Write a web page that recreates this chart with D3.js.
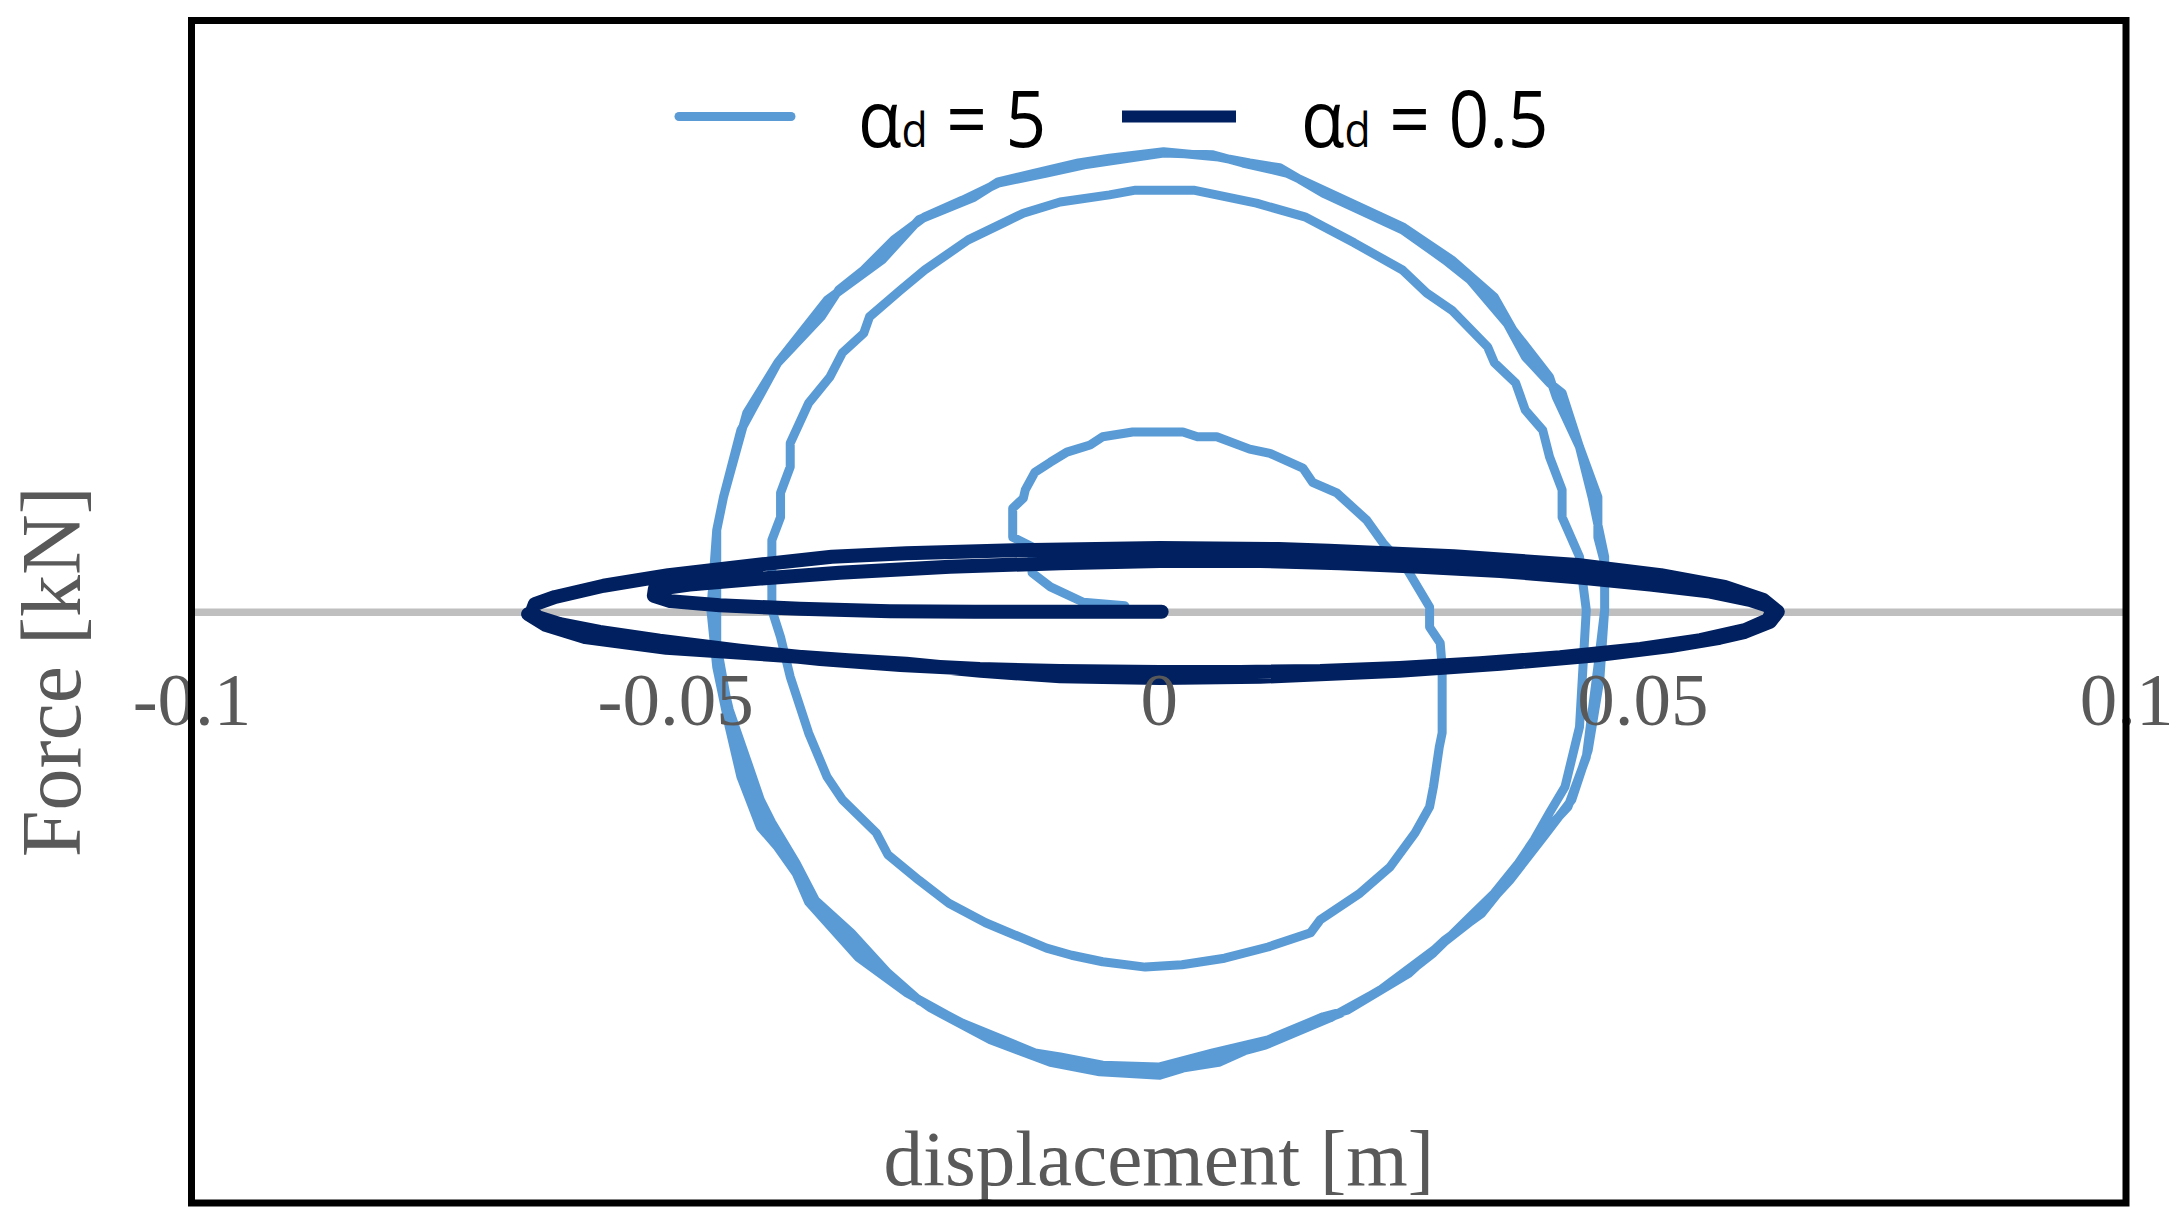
<!DOCTYPE html>
<html>
<head>
<meta charset="utf-8">
<script src="https://cdn.jsdelivr.net/npm/d3@7"></script>
<style>
html, body { margin: 0; padding: 0; background: #fff; }
svg { display: block; }
</style>
</head>
<body>
<svg id="chart"></svg>
<script>
// DATA //

const xTicks = [-0.1, -0.05, 0, 0.05, 0.1]
const xTickLabels = ['-0.1', '-0.05', '0', '0.05', '0.1']
const seriesNames = ['5', '0.5']   // alpha_d values

// alpha_d = 5 : displacement [m]
const dispA5 = [
  -0.0035, -0.0078, -0.0112, -0.0131, -0.0131, -0.0151, -0.0151, -0.0140, -0.0138, -0.0128,
  -0.0112, -0.0095, -0.0071, -0.0058, -0.0027, 0.0025, 0.0040, 0.0060, 0.0094, 0.0115,
  0.0149, 0.0159, 0.0184, 0.0215, 0.0232, 0.0257, 0.0280, 0.0280, 0.0291, 0.0293,
  0.0293, 0.0290, 0.0284, 0.0280, 0.0265, 0.0239, 0.0208, 0.0167, 0.0157, 0.0113,
  0.0068, 0.0024, -0.0014, -0.0058, -0.0090, -0.0116, -0.0179, -0.0217, -0.0248, -0.0280,
  -0.0292, -0.0327, -0.0343, -0.0362, -0.0381, -0.0391, -0.0400, -0.0400, -0.0391, -0.0391,
  -0.0381, -0.0381, -0.0362, -0.0340, -0.0327, -0.0305, -0.0299, -0.0267, -0.0242, -0.0197,
  -0.0159, -0.0140, -0.0102, -0.0051, -0.0024, 0.0036, 0.0101, 0.0151, 0.0202, 0.0252,
  0.0277, 0.0303, 0.0340, 0.0347, 0.0369, 0.0379, 0.0397, 0.0404, 0.0417, 0.0417,
  0.0435, 0.0442, 0.0435, 0.0420, 0.0404, 0.0388, 0.0372, 0.0347, 0.0322, 0.0284,
  0.0252, 0.0195, 0.0170, 0.0113, 0.0056, 0.0000, -0.0058, -0.0102, -0.0128, -0.0203,
  -0.0248, -0.0280, -0.0318, -0.0355, -0.0375, -0.0400, -0.0412, -0.0426, -0.0444, -0.0457,
  -0.0457, -0.0457, -0.0450, -0.0426, -0.0394, -0.0343, -0.0286, -0.0248, -0.0191, -0.0166,
  -0.0128, -0.0083, -0.0051, 0.0005, 0.0062, 0.0094, 0.0125, 0.0170, 0.0208, 0.0252,
  0.0296, 0.0322, 0.0360, 0.0379, 0.0404, 0.0417, 0.0435, 0.0454, 0.0454, 0.0461,
  0.0461, 0.0454, 0.0442, 0.0423, 0.0391, 0.0372, 0.0334, 0.0296, 0.0259, 0.0188,
  0.0107, 0.0062, 0.0000, -0.0065, -0.0116, -0.0197, -0.0260, -0.0311, -0.0362, -0.0375,
  -0.0394, -0.0412, -0.0432, -0.0444, -0.0457, -0.0463, -0.0457, -0.0450, -0.0432, -0.0419,
  -0.0394, -0.0349, -0.0331, -0.0305, -0.0274, -0.0242, -0.0203, -0.0166, -0.0116, -0.0077,
  0.0005, 0.0056, 0.0087, 0.0132, 0.0170, 0.0252, 0.0303, 0.0347, 0.0366, 0.0404,
  0.0411, 0.0435, 0.0448, 0.0461, 0.0461, 0.0456, 0.0444, 0.0427, 0.0399, 0.0363,
  0.0327, 0.0291, 0.0229, 0.0177, 0.0110, 0.0053, 0.0001, -0.0061, -0.0112, -0.0174,
  -0.0236, -0.0299, -0.0350, -0.0381, -0.0407, -0.0428, -0.0443, -0.0454
]
// alpha_d = 5 : force (relative units, axis has no labels)
const forceA5 = [
  1.0, 1.6, 4.2, 6.6, 11.0, 12.6, 17.5, 19.2, 20.6, 23.6,
  25.3, 27.0, 28.2, 29.6, 30.4, 30.4, 29.6, 29.6, 27.5, 26.8,
  24.3, 21.9, 20.1, 15.5, 11.6, 7.1, 0.8, -2.6, -5.3, -9.3,
  -20.5, -22.9, -29.6, -33.0, -37.4, -43.2, -47.6, -52.1, -54.3, -56.7,
  -58.6, -59.7, -60.1, -59.2, -58.1, -56.9, -52.6, -49.3, -45.4, -41.1,
  -37.4, -31.8, -27.9, -20.5, -11.0, -4.3, 0.3, 12.1, 16.0, 20.1,
  24.5, 28.5, 35.3, 39.7, 43.8, 47.1, 49.9, 54.4, 57.8, 62.9,
  65.9, 67.4, 69.3, 70.5, 71.3, 71.3, 69.1, 66.8, 62.4, 57.8,
  53.9, 51.0, 44.8, 42.1, 38.7, 34.1, 30.7, 26.2, 20.6, 16.0,
  9.3, 0.3, -19.5, -29.6, -34.0, -38.6, -42.5, -47.6, -51.6, -57.7,
  -61.8, -67.4, -68.5, -72.4, -74.6, -77.0, -76.7, -75.3, -74.6, -69.6,
  -65.7, -61.1, -54.3, -48.8, -42.5, -35.7, -31.8, -25.1, -16.6, -7.7,
  0.3, 13.8, 19.4, 33.6, 42.1, 52.7, 59.5, 66.3, 70.1, 72.7,
  74.2, 75.9, 76.7, 77.8, 76.9, 75.9, 75.1, 70.8, 67.9, 64.6,
  59.5, 56.1, 48.8, 43.1, 38.7, 37.0, 27.9, 19.4, 12.6, 8.2,
  0.3, -9.3, -24.6, -33.0, -38.6, -43.2, -51.0, -55.5, -61.1, -67.9,
  -72.9, -76.2, -77.8, -77.2, -75.5, -70.2, -64.5, -58.4, -49.1, -44.2,
  -39.8, -36.4, -27.9, -19.5, -9.3, 0.3, 13.8, 19.4, 30.7, 34.6,
  42.1, 49.9, 54.4, 57.8, 62.9, 66.8, 69.6, 72.5, 74.2, 75.6,
  77.6, 77.3, 75.9, 74.2, 71.3, 65.1, 59.5, 53.2, 47.7, 39.7,
  36.3, 27.9, 19.4, 9.3, 0.3, -11.5, -23.4, -31.8, -37.8, -45.4,
  -51.8, -56.4, -64.0, -68.7, -73.3, -75.8, -78.4, -77.8, -76.2, -72.4,
  -67.0, -59.7, -50.4, -42.0, -35.2, -26.8, -18.3, -8.2
]

// alpha_d = 0.5 : displacement [m]
const dispA05 = [
  0.0003, -0.0102, -0.0190, -0.0278, -0.0371, -0.0454, -0.0505, -0.0522, -0.0521,
  -0.0485, -0.0412, -0.0330, -0.0216, -0.0102, 0.0001, 0.0105, 0.0187, 0.0270, 0.0353,
  0.0435, 0.0508, 0.0570, 0.0611, 0.0630, 0.0634,
  0.0630, 0.0606, 0.0560, 0.0498, 0.0415, 0.0332, 0.0249, 0.0167, 0.0084, 0.0001,
  -0.0102, -0.0185, -0.0267, -0.0350, -0.0433, -0.0516, -0.0578, -0.0619, -0.0642, -0.0648,
  -0.0645, -0.0624, -0.0574, -0.0507, -0.0406, -0.0338, -0.0261, -0.0150, 0.0001, 0.0124,
  0.0176, 0.0305, 0.0433, 0.0519, 0.0585, 0.0625, 0.0640,
  0.0632, 0.0606, 0.0580, 0.0529, 0.0456, 0.0353, 0.0249, 0.0105, 0.0001, -0.0102,
  -0.0184, -0.0261, -0.0321, -0.0398, -0.0509, -0.0593, -0.0634, -0.0652
]
// alpha_d = 0.5 : force (relative units)
const forceA05 = [
  0.0, 0.0, 0.0, 0.1, 0.5, 1.1, 1.8, 2.7, 3.8,
  4.6, 5.6, 6.6, 7.6, 8.2, 8.6, 8.6, 8.2, 7.6, 6.9,
  5.8, 4.6, 3.4, 2.0, 1.0, 0.0,
  -1.4, -3.1, -4.8, -6.3, -7.7, -8.7, -9.5, -10.0, -10.2, -10.2,
  -10.0, -9.7, -9.0, -8.0, -6.6, -4.9, -3.4, -2.1, -0.9, 0.0,
  1.3, 2.5, 4.4, 6.2, 8.1, 9.3, 9.9, 10.4, 10.8, 10.6,
  10.3, 9.4, 7.9, 6.2, 4.2, 2.0, 0.0,
  -1.7, -3.4, -4.4, -5.8, -7.3, -8.8, -10.0, -11.0, -11.2, -10.9,
  -10.0, -8.8, -8.2, -7.3, -6.1, -4.3, -2.2, -0.4
]

// STYLES //
const seriesColors = ['#5B9BD5', '#002060']
const seriesWidths = [9, 14]
const serif = "'Liberation Serif', 'Times New Roman', serif"
const sans = "'Open Sans', 'Noto Sans', sans-serif"

// CHART //

const width = 2183
const height = 1221

const svg = d3.select('#chart')
    .attr('width', width)
    .attr('height', height)

const x = d3.scaleLinear().domain([-0.1, 0.1]).range([191.5, 2126])
const y = d3.scaleLinear().domain([-100, 100]).range([1203, 20.5])

// zero line (axis domain)
const zeroAxis = svg.append('g')
    .attr('transform', `translate(0,${y(0)})`)
    .call(d3.axisBottom(x).tickValues([]).tickSizeOuter(0))
zeroAxis.select('.domain')
    .attr('stroke', '#BFBFBF')
    .attr('stroke-width', 7.5)

// SERIES //
const series = [
    d3.zip(dispA5, forceA5),
    d3.zip(dispA05, forceA05)
]

const line = d3.line()
    .x(d => x(d[0]))
    .y(d => y(d[1]))

svg.selectAll('path.series')
    .data(series)
    .enter()
    .append('path')
    .attr('class', 'series')
    .attr('d', line)
    .attr('fill', 'none')
    .attr('stroke', (d, i) => seriesColors[i])
    .attr('stroke-width', (d, i) => seriesWidths[i])
    .attr('stroke-linejoin', 'round')
    .attr('stroke-linecap', 'round')

// TICK LABELS //
const labelAxis = svg.append('g')
    .attr('transform', `translate(0,${y(0)})`)
    .call(d3.axisBottom(x)
        .tickValues(xTicks)
        .tickSize(0)
        .tickSizeOuter(0)
        .tickFormat((d, i) => xTickLabels[i]))
labelAxis.select('.domain').remove()
labelAxis
    .attr('font-family', serif)
    .attr('font-size', 75)
labelAxis.selectAll('text')
    .attr('y', 113)
    .attr('dy', 0)
    .attr('fill', '#595959')

// AXIS TITLES //
svg.append('text')
    .attr('x', x(0))
    .attr('y', 1185)
    .attr('text-anchor', 'middle')
    .attr('font-family', serif)
    .attr('font-size', 79)
    .attr('fill', '#595959')
    .text('displacement [m]')

svg.append('text')
    .attr('transform', `translate(80,${y(0) + 60}) rotate(-90)`)
    .attr('text-anchor', 'middle')
    .attr('font-family', serif)
    .attr('font-size', 84)
    .attr('fill', '#595959')
    .text('Force [kN]')

// LEGEND //
const legendX = [675, 1122]
const legendY = 116.5

const legend = svg.selectAll('g.legend')
    .data(seriesNames)
    .enter()
    .append('g')
    .attr('class', 'legend')
    .attr('transform', (d, i) => `translate(${legendX[i]},${legendY})`)

legend.append('line')
    .attr('x1', (d, i) => i === 0 ? 4 : 0)
    .attr('x2', (d, i) => i === 0 ? 116 : 114)
    .attr('stroke', (d, i) => seriesColors[i])
    .attr('stroke-width', (d, i) => i === 0 ? 9 : 12)
    .attr('stroke-linecap', (d, i) => i === 0 ? 'round' : 'butt')

// slightly condensed, like the original legend font
const legendText = legend.append('text')
    .attr('transform', (d, i) => `translate(${i === 0 ? 183 : 179},30) scale(0.95,1.05)`)
    .attr('font-family', sans)
    .attr('font-size', 75)
    .attr('fill', '#000')
legendText.append('tspan').text('α')
legendText.append('tspan').attr('font-size', 45).text('d')
legendText.append('tspan').text(d => ' = ' + d)

// FRAME //
svg.append('rect')
    .attr('x', x.range()[0])
    .attr('y', y.range()[1])
    .attr('width', x.range()[1] - x.range()[0])
    .attr('height', y.range()[0] - y.range()[1])
    .attr('fill', 'none')
    .attr('stroke', '#000')
    .attr('stroke-width', 7)
</script>
</body>
</html>
